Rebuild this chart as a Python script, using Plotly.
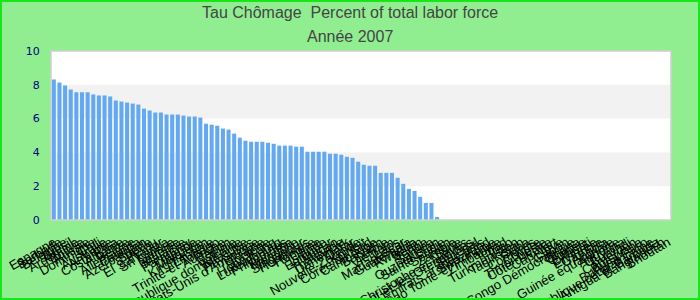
import plotly.graph_objects as go

countries = [
    "Espagne", "Barbade", "Belgique", "Brésil", "Argentine", "Bolivie", "Russie",
    "Dominique", "Chili", "Australie", "Arménie", "Costa Rica", "Albanie", "Belize",
    "Allemagne", "Canada", "Azerbaïdjan", "Suède", "Pérou", "El Salvador",
    "Sri Lanka", "Suisse", "Lettonie", "Malaisie", "Paraguay", "Irlande", "Moldavie",
    "Kirghizistan", "Lituanie", "Trinité-et-Tobago", "Autriche", "Japon", "Estonie",
    "République dominicaine", "Mexique", "Pays-Bas", "Etats-Unis d'Amérique",
    "Ukraine", "Norvège", "Hong Kong", "Luxembourg", "Philippines", "Panama",
    "Mongolie", "Singapour", "Honduras", "Hongrie", "Chine", "Islande", "Équateur",
    "Macao", "Thaïlande", "Danemark", "Qatar", "Nouvelle-Zélande", "Koweït",
    "Corée du Sud", "Cambodge", "Bahreïn", "Serbie", "Vietnam", "Laos",
    "Madagascar", "Guatemala", "Rwanda", "Bénin", "Tonga", "Samoa", "Ouzbékistan",
    "Sainte-Lucie", "Soudan", "Zambie", "Syrie", "Saint-Christophe-et-Niévès",
    "Saint-Vincent-et-les Grenadines", "Sénégal", "Emirats arabes unis",
    "Swaziland", "Sao Tomé-et-Principe", "Zimbabwe", "Tchad", "Togo",
    "Turkménistan", "Tadjikistan", "Cuba", "Comores", "Chypre", "Timor-Leste",
    "Côte d'Ivoire", "Cap-Vert", "Libye", "Gabon", "Congo Démocratique", "Ghana",
    "Guinée", "Djibouti", "Erythrée", "Gambie", "Angola", "Guinée équatoriale",
    "Andorre", "Guyana", "Burundi", "Cameroun", "Botswana", "Burkina Faso",
    "République centrafricaine", "Antigua-et-Barbuda", "Bangladesh", "Bhoutan",
]

values = [
    8.32, 8.14, 7.96, 7.72, 7.56, 7.56, 7.56, 7.43, 7.37, 7.37, 7.31, 7.07,
    7.01, 6.95, 6.89, 6.83, 6.59, 6.48, 6.36, 6.36, 6.24, 6.24, 6.24, 6.18,
    6.12, 6.12, 6.06, 5.70, 5.64, 5.58, 5.41, 5.35, 5.11, 4.87, 4.69, 4.63,
    4.63, 4.63, 4.57, 4.51, 4.40, 4.40, 4.40, 4.34, 4.34, 4.04, 4.04, 4.04,
    4.04, 3.92, 3.92, 3.86, 3.74, 3.68, 3.45, 3.27, 3.21, 3.21, 2.79, 2.79,
    2.79, 2.50, 2.14, 1.84, 1.72, 1.37, 1.01, 1.01, 0.18,
]
values = values + [None] * (len(countries) - len(values))

title_line1 = "Tau Chômage  Percent of total labor force"
title_line2 = "Année 2007"
y_ticks = [0, 2, 4, 6, 8, 10]
bands = [(2, 4), (6, 8)]

W, H = 700, 300
ml, mr, mt, mb = 51, 29, 51, 80
pw, ph = W - ml - mr, H - mt - mb

fig = go.Figure(go.Bar(
    x=countries, y=values,
    marker=dict(color="#63a9f1", line=dict(width=0)),
))

shapes = []
for y0, y1 in bands:
    shapes.append(dict(type="rect", xref="paper", yref="y", x0=0, x1=1, y0=y0, y1=y1,
                       fillcolor="#f2f2f2", line=dict(width=0), layer="below"))
shapes.append(dict(type="rect", xref="paper", yref="paper", x0=0, x1=1, y0=0, y1=1,
                   line=dict(color="#d0d0d0", width=1.5), layer="above"))
shapes.append(dict(type="rect", xref="paper", yref="paper",
                   x0=-(ml - 1) / pw, x1=1 + (mr - 1) / pw,
                   y0=-(mb - 1) / ph, y1=1 + (mt - 1) / ph,
                   line=dict(color="#19e619", width=2), layer="above"))

def py(px_from_top):
    return 1 + (mt - px_from_top) / ph

title_font = dict(family="Liberation Sans, Arial", size=16, color="#444444")
annotations = [
    dict(text=title_line1, xref="paper", yref="paper", x=(350 - ml) / pw, y=py(13),
         xanchor="center", yanchor="middle", showarrow=False, font=title_font),
    dict(text=title_line2, xref="paper", yref="paper", x=(350 - ml) / pw, y=py(36),
         xanchor="center", yanchor="middle", showarrow=False, font=title_font),
]

fig.update_layout(
    width=W, height=H,
    margin=dict(l=ml, r=mr, t=mt, b=mb, autoexpand=False),
    paper_bgcolor="#90ee90",
    plot_bgcolor="white",
    bargap=0.28,
    showlegend=False,
    shapes=shapes,
    annotations=annotations,
    xaxis=dict(type="category", tickmode="linear", dtick=1, tickangle=-30,
               showgrid=False, zeroline=False, showline=False,
               ticks="outside", ticklen=9, tickcolor="rgba(0,0,0,0)",
               tickfont=dict(family="Liberation Sans, Arial", size=13, color="black"),
               automargin=False),
    yaxis=dict(range=[0, 10], tickvals=y_ticks, showgrid=False, zeroline=False,
               showline=False, ticks="outside", ticklen=8, tickcolor="rgba(0,0,0,0)",
               tickfont=dict(family="DejaVu Sans", size=11, color="#000080"),
               automargin=False),
)

fig.write_html("out.html")
